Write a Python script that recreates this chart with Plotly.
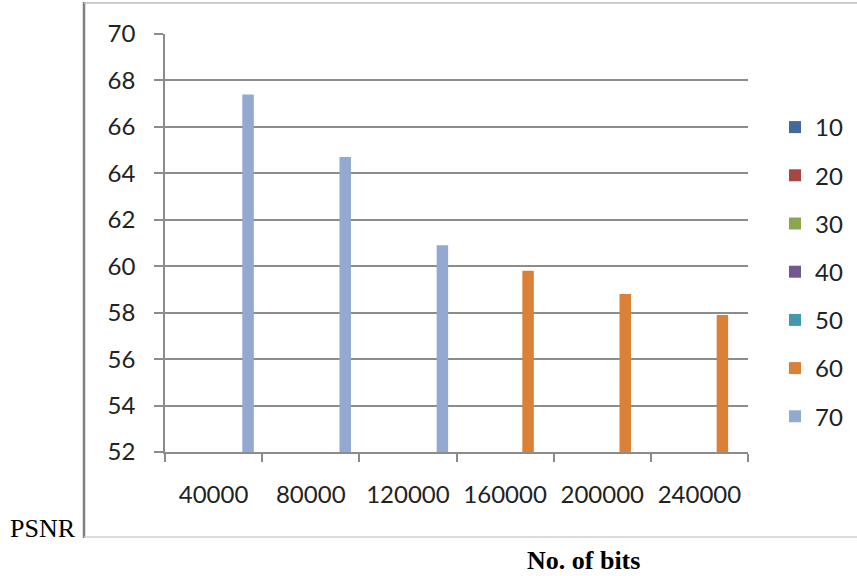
import plotly.graph_objects as go

# Bit budgets on the category axis
bits = ["40000", "80000", "120000", "160000", "200000", "240000"]

# PSNR per series (None where the series has no column)
series_names = ["10", "20", "30", "40", "50", "60", "70"]
psnr_10 = [None, None, None, None, None, None]
psnr_20 = [None, None, None, None, None, None]
psnr_30 = [None, None, None, None, None, None]
psnr_40 = [None, None, None, None, None, None]
psnr_50 = [None, None, None, None, None, None]
psnr_60 = [None, None, None, 59.8, 58.8, 57.9]
psnr_70 = [67.4, 64.7, 60.9, None, None, None]

series_values = [psnr_10, psnr_20, psnr_30, psnr_40, psnr_50, psnr_60, psnr_70]
series_colors = ["#41689F", "#A94643", "#8AA64F", "#71588F",
                 "#4298AF", "#DA8137", "#93A9CF"]

W, H = 857, 576
L, R, T, B = 165, 748, 34, 452  # plot-area edges in pixels

def px_x(p):
    return (p - L) / (R - L)

def px_y(p):
    return (B - p) / (B - T)

fig = go.Figure()
for name, vals, col in zip(series_names, series_values, series_colors):
    fig.add_trace(go.Bar(
        x=bits, y=vals, name=name, legendgroup=name,
        marker=dict(color=col, line=dict(width=0)),
    ))

axis_font = dict(family="Lato, Carlito, sans-serif", size=24, color="#222222")
grid_col = "#8C8C8C"

fig.update_layout(
    width=W, height=H,
    margin=dict(l=L, r=W - R, t=T, b=H - B, autoexpand=False),
    paper_bgcolor="white", plot_bgcolor="white",
    barmode="group", bargap=0.172, bargroupgap=0,
    font=axis_font,
    showlegend=True,
    legend=dict(
        x=px_x(775), y=px_y(105), xanchor="left", yanchor="top",
        font=dict(family="Lato, Carlito, sans-serif", size=24, color="#222222"),
        tracegroupgap=14, itemwidth=30, bgcolor="rgba(0,0,0,0)",
        maxheight=520,
    ),
    xaxis=dict(
        type="category", showgrid=False, showline=True,
        linecolor=grid_col, linewidth=1.5,
        ticks="outside", tickson="boundaries", ticklen=8,
        tickcolor=grid_col, tickwidth=1.5,
        ticklabelstandoff=20, tickfont=axis_font,
    ),
    yaxis=dict(
        range=[52, 70], dtick=2, tick0=52,
        showgrid=True, gridcolor=grid_col, gridwidth=1.5,
        showline=True, linecolor=grid_col, linewidth=1.5,
        ticks="outside", ticklen=9, tickcolor=grid_col, tickwidth=1.5,
        ticklabelstandoff=14, tickfont=axis_font, zeroline=False,
    ),
)

# Chart frame: dark left edge, light top and bottom edges
fig.add_shape(type="line", xref="paper", yref="paper",
              x0=px_x(84), x1=px_x(84), y0=px_y(2), y1=px_y(538),
              line=dict(color="#808080", width=2.5))
fig.add_shape(type="line", xref="paper", yref="paper",
              x0=px_x(84), x1=px_x(860), y0=px_y(3), y1=px_y(3),
              line=dict(color="#BDBDBD", width=1.5))
fig.add_shape(type="line", xref="paper", yref="paper",
              x0=px_x(84), x1=px_x(860), y0=px_y(537), y1=px_y(537),
              line=dict(color="#D0D0D0", width=1.5))

serif = "Liberation Serif, Times New Roman, serif"
fig.add_annotation(text="PSNR", xref="paper", yref="paper",
                   x=px_x(8), y=px_y(528), xanchor="left", yanchor="middle",
                   showarrow=False, font=dict(family=serif, size=26, color="black"))
fig.add_annotation(text="<b>No. of bits</b>", xref="paper", yref="paper",
                   x=px_x(583), y=px_y(560), xanchor="center", yanchor="middle",
                   showarrow=False, font=dict(family=serif, size=26, color="black"))

fig.write_html("out.html")
